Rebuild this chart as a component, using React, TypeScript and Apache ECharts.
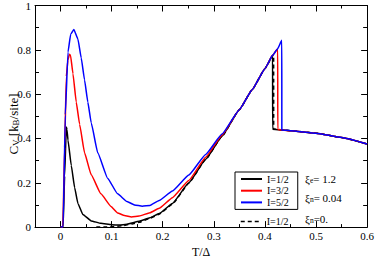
import React, { useEffect, useRef } from "react";
import * as echarts from "echarts";

// I = 1/2, xi_n = 0.04
const tBlack = [0, 0.005, 0.008, 0.0113, 0.0125, 0.0146, 0.021, 0.0276, 0.034, 0.0437, 0.06, 0.079, 0.1, 0.115, 0.13, 0.154, 0.175, 0.193, 0.219, 0.251, 0.284, 0.316, 0.35, 0.375, 0.4, 0.415, 0.4151, 0.45, 0.5, 0.55, 0.6];
const cBlack = [0, 0, 0.23, 0.452, 0.44, 0.392, 0.278, 0.178, 0.107, 0.057, 0.028, 0.017, 0.011, 0.009, 0.013, 0.026, 0.042, 0.061, 0.107, 0.2, 0.306, 0.41, 0.53, 0.62, 0.715, 0.775, 0.442, 0.435, 0.424, 0.404, 0.375];

// I = 3/2
const tRed = [0, 0.0045, 0.008, 0.0113, 0.0145, 0.0175, 0.0195, 0.0243, 0.0307, 0.0373, 0.047, 0.06, 0.079, 0.0987, 0.1117, 0.125, 0.139, 0.154, 0.175, 0.193, 0.219, 0.251, 0.284, 0.316, 0.35, 0.375, 0.4, 0.415, 0.425, 0.4251, 0.45, 0.5, 0.55, 0.6];
const cRed = [0, 0, 0.36, 0.68, 0.755, 0.78, 0.776, 0.692, 0.564, 0.464, 0.335, 0.236, 0.15, 0.093, 0.064, 0.052, 0.046, 0.05, 0.065, 0.085, 0.133, 0.21, 0.315, 0.415, 0.53, 0.62, 0.715, 0.775, 0.805, 0.44, 0.435, 0.424, 0.404, 0.375];

// I = 5/2
const tBlue = [0, 0.005, 0.0093, 0.0146, 0.0198, 0.026, 0.034, 0.0404, 0.047, 0.0534, 0.06, 0.0728, 0.092, 0.1117, 0.13, 0.145, 0.16, 0.175, 0.193, 0.219, 0.251, 0.284, 0.316, 0.35, 0.375, 0.4, 0.415, 0.425, 0.433, 0.4331, 0.45, 0.5, 0.55, 0.6];
const cBlue = [0, 0, 0.507, 0.79, 0.87, 0.892, 0.849, 0.764, 0.664, 0.564, 0.471, 0.335, 0.221, 0.15, 0.115, 0.1, 0.094, 0.098, 0.12, 0.163, 0.235, 0.328, 0.42, 0.53, 0.62, 0.715, 0.775, 0.805, 0.843, 0.438, 0.435, 0.424, 0.404, 0.375];

// I = 1/2, xi_n = 0
const tDash = [0.07, 0.09, 0.1, 0.12, 0.14, 0.154, 0.175, 0.193, 0.219, 0.251, 0.284, 0.316, 0.35, 0.375, 0.4, 0.417, 0.4171, 0.45, 0.5, 0.55, 0.6];
const cDash = [0, 0, 0.002, 0.006, 0.014, 0.022, 0.04, 0.058, 0.104, 0.198, 0.305, 0.41, 0.53, 0.62, 0.715, 0.778, 0.442, 0.435, 0.424, 0.404, 0.375];

const seriesNames = ["I=1/2", "I=3/2", "I=5/2"];
const dashName = "I=1/2 (xi_n=0)";
const dashLabel = "I=1/2";
const xMajorTicks = [0, 0.1, 0.2, 0.3, 0.4, 0.5, 0.6];
const paramTexts = ["{a|ξ}{s|e}{a|= 1.2}", "{a|ξ}{s|n}{a|= 0.04}", "{a|ξ}{s|n}{a|=0.}"];
const yName = "{a|C}{s|V}{a| [k}{s|B}{a|/site]}";

const pairs = (t: number[], c: number[]) => t.map((x, i) => [x, c[i]]);

export default function App() {
  const ref = useRef<HTMLDivElement>(null);
  useEffect(() => {
    const chart = echarts.init(ref.current!, null, { renderer: "svg" });
    const font = "Liberation Serif";
    const black = "#000";
    const rich = {
      a: { fontFamily: font, fontSize: 11, color: black, lineHeight: 16, verticalAlign: "bottom" },
      s: { fontFamily: font, fontSize: 7.5, color: black, lineHeight: 8, verticalAlign: "bottom" },
    };
    const xBase: any = { type: "value", min: -0.05, max: 0.6, splitLine: { show: false } };
    const yBase: any = { type: "value", min: 0, max: 1, splitLine: { show: false } };
    const line = { color: black, width: 1 };
    const xFmt = (v: number) => {
      const k = Math.round(v * 20);
      if (k < 0 || k % 2 !== 0) return "";
      return k === 0 ? "0" : v.toFixed(1);
    };
    const yFmt = (v: number) => (v === 0 ? "0" : v === 1 ? "1" : v.toFixed(1));
    const lineSeries = (name: string, t: number[], c: number[], color: string, dashed = false, z = 2) => ({
      type: "line",
      name,
      data: pairs(t, c),
      xAxisIndex: 0,
      yAxisIndex: 0,
      symbol: "none",
      showSymbol: false,
      smooth: 0.12,
      smoothMonotone: "x",
      z,
      lineStyle: { color, width: 1.5, type: dashed ? [4, 3] : "solid" },
      itemStyle: { color },
    });
    const hiddenSymbol = { color: "rgba(0,0,0,0)", borderColor: "rgba(0,0,0,0)", borderWidth: 0, opacity: 0 };
    chart.setOption({
      animation: false,
      backgroundColor: "#fff",
      textStyle: { fontFamily: font },
      grid: { left: 35, right: 8, top: 5, bottom: 25 },
      xAxis: [
        {
          ...xBase,
          position: "bottom",
          interval: 0.05,
          axisLine: { show: true, onZero: false, lineStyle: line },
          axisTick: { show: true, inside: true, length: 3, lineStyle: line },
          axisLabel: { formatter: xFmt, margin: 3, color: black, fontFamily: font, fontSize: 11, showMinLabel: true, showMaxLabel: true },
          name: "T/Δ",
          nameLocation: "middle",
          nameGap: 12,
          nameTextStyle: { fontFamily: font, fontSize: 12, color: black },
        },
        {
          ...xBase,
          position: "bottom",
          axisLine: { show: false, onZero: false },
          axisTick: { show: true, inside: true, length: 6, lineStyle: line, customValues: xMajorTicks },
          axisLabel: { show: false },
        },
        {
          ...xBase,
          position: "top",
          interval: 0.05,
          axisLine: { show: true, onZero: false, lineStyle: line },
          axisTick: { show: true, inside: true, length: 3, lineStyle: line },
          axisLabel: { show: false },
        },
        {
          ...xBase,
          position: "top",
          axisLine: { show: false, onZero: false },
          axisTick: { show: true, inside: true, length: 6, lineStyle: line, customValues: xMajorTicks },
          axisLabel: { show: false },
        },
      ],
      yAxis: [
        {
          ...yBase,
          position: "left",
          interval: 0.2,
          axisLine: { show: true, onZero: false, lineStyle: line },
          axisTick: { show: true, inside: true, length: 6, lineStyle: line },
          minorTick: { show: true, splitNumber: 2, length: 4, lineStyle: line },
          axisLabel: { formatter: yFmt, margin: 4, color: black, fontFamily: font, fontSize: 11 },
        },
        {
          ...yBase,
          position: "right",
          interval: 0.2,
          axisLine: { show: true, onZero: false, lineStyle: line },
          axisTick: { show: true, inside: true, length: 6, lineStyle: line },
          minorTick: { show: true, splitNumber: 2, length: 4, lineStyle: line },
          axisLabel: { show: false },
        },
      ],
      legend: [
        {
          data: seriesNames,
          left: 235,
          top: 172,
          orient: "vertical",
          borderColor: black,
          borderWidth: 1,
          borderRadius: 0,
          padding: [2, 9, 2, 5],
          itemWidth: 21,
          itemHeight: 10,
          itemGap: 1.7,
          selectedMode: false,
          itemStyle: hiddenSymbol,
          textStyle: { fontFamily: font, fontSize: 10, color: black },
        },
        {
          data: [dashName],
          left: 235,
          top: 216.5,
          orient: "vertical",
          padding: [0, 5, 0, 5],
          itemWidth: 21,
          itemHeight: 10,
          selectedMode: false,
          itemStyle: hiddenSymbol,
          lineStyle: { width: 1.5 },
          formatter: () => dashLabel,
          textStyle: { fontFamily: font, fontSize: 10, color: black },
        },
      ],
      graphic: [
        ...paramTexts.map((txt, i) => ({
          type: "text",
          left: 305,
          top: [173.7, 192, 213.7][i],
          style: { text: txt, rich },
        })),
        {
          type: "text",
          x: 11,
          y: 124,
          rotation: Math.PI / 2,
          style: {
            text: yName,
            align: "center",
            verticalAlign: "middle",
            rich: {
              a: { ...rich.a, fontSize: 13, lineHeight: 18 },
              s: { ...rich.s, fontSize: 9, lineHeight: 10 },
            },
          },
        },
      ],
      series: [
        lineSeries(dashName, tDash, cDash, black, true, 1),
        lineSeries(seriesNames[0], tBlack, cBlack, black, false, 2),
        lineSeries(seriesNames[1], tRed, cRed, "#ff0000", false, 3),
        lineSeries(seriesNames[2], tBlue, cBlue, "#0000ff", false, 4),
      ],
    });
    return () => chart.dispose();
  }, []);
  return <div ref={ref} style={{ position: "fixed", left: 0, top: 0, width: 377, height: 263 }} />;
}
